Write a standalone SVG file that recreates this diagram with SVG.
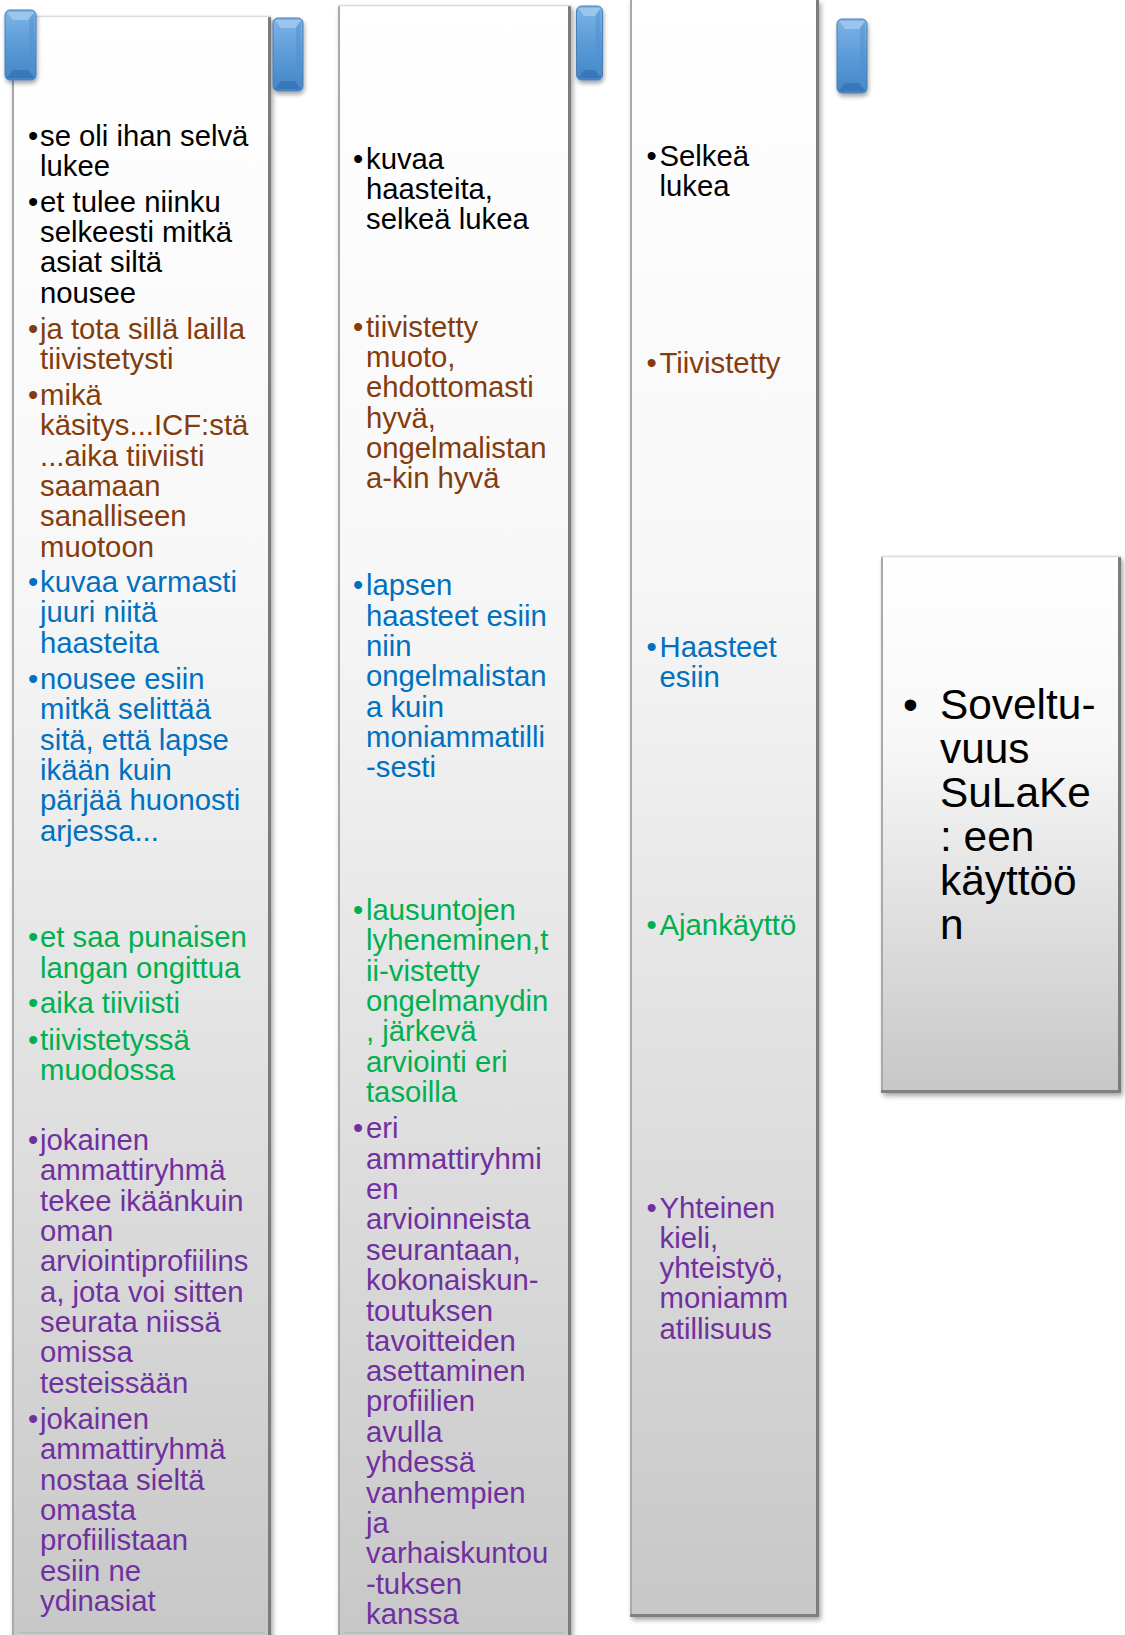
<svg xmlns="http://www.w3.org/2000/svg" width="1125" height="1635" viewBox="0 0 1125 1635">
<defs>
<linearGradient id="colFill" x1="0" y1="0" x2="0" y2="1">
<stop offset="0" stop-color="#ffffff"/>
<stop offset="0.35" stop-color="#f7f7f7"/>
<stop offset="1" stop-color="#c7c7c7"/>
</linearGradient>
<linearGradient id="tabFill" x1="0" y1="0" x2="0" y2="1">
<stop offset="0" stop-color="#7fb4e6"/>
<stop offset="0.5" stop-color="#5b9bd8"/>
<stop offset="1" stop-color="#4586c8"/>
</linearGradient>
<filter id="shadow" x="-10%" y="-5%" width="130%" height="115%">
<feDropShadow dx="2" dy="3" stdDeviation="2.5" flood-color="#000000" flood-opacity="0.35"/>
</filter>
<filter id="tabShadow" x="-30%" y="-20%" width="160%" height="150%">
<feDropShadow dx="1" dy="3" stdDeviation="2" flood-color="#000000" flood-opacity="0.35"/>
</filter>
</defs>
<style>
.col{fill:url(#colFill);filter:url(#shadow)}
.rimL{stroke:#a9a9a9;stroke-width:2;fill:none}
.rimR{stroke:#7c7c7c;stroke-width:3;fill:none}
.rimT{stroke:#dcdcdc;stroke-width:1.5;fill:none}
.rimB{stroke:#808080;stroke-width:3;fill:none}
.bev{stroke:#b9b9b9;stroke-width:1;fill:none}
.tab{fill:url(#tabFill);stroke:#4a7fb5;stroke-width:1;filter:url(#tabShadow)}
.ftop{fill:#a6cdf2;opacity:0.75}
.fbot{fill:#3573b5;opacity:0.8}
.fside{fill:#4f8fcf;opacity:0.5}
text{font-family:"Liberation Sans",Arial,sans-serif;font-size:29.3px}
.big{font-size:42.4px}
.k{fill:#000000}
.br{fill:#843c0c}
.bl{fill:#0070c0}
.gr{fill:#00b050}
.pu{fill:#7030a0}
</style>

<g id="column1">
<rect class="col" x="12" y="16" width="259" height="1630"/>
<line class="rimL" x1="13" y1="16" x2="13" y2="1646"/>
<line class="rimR" x1="269.5" y1="16" x2="269.5" y2="1646"/>
<line class="rimT" x1="12" y1="16.5" x2="271" y2="16.5"/>
<line class="bev" x1="18" y1="1632.5" x2="265" y2="1632.5"/>
<g transform="matrix(1,0,0,1.0025,0,0.64)">
<text class="k"><tspan x="28" y="145">•</tspan><tspan x="40" y="145">se oli ihan selvä</tspan><tspan x="40" y="175">lukee</tspan></text>
<text class="k"><tspan x="28" y="210.5">•</tspan><tspan x="40" y="210.5">et tulee niinku</tspan><tspan x="40" y="240.8">selkeesti mitkä</tspan><tspan x="40" y="271">asiat siltä</tspan><tspan x="40" y="301.3">nousee</tspan></text>
<text class="br"><tspan x="28" y="337.6">•</tspan><tspan x="40" y="337.6">ja tota sillä lailla</tspan><tspan x="40" y="367.8">tiivistetysti</tspan></text>
<text class="br"><tspan x="28" y="403.3">•</tspan><tspan x="40" y="403.3">mikä</tspan><tspan x="40" y="433.5">käsitys...ICF:stä</tspan><tspan x="40" y="463.8">...aika tiiviisti</tspan><tspan x="40" y="494">saamaan</tspan><tspan x="40" y="524.3">sanalliseen</tspan><tspan x="40" y="554.5">muotoon</tspan></text>
<text class="bl"><tspan x="28" y="590">•</tspan><tspan x="40" y="590">kuvaa varmasti</tspan><tspan x="40" y="620.3">juuri niitä</tspan><tspan x="40" y="650.5">haasteita</tspan></text>
<text class="bl"><tspan x="28" y="686.8">•</tspan><tspan x="40" y="686.8">nousee esiin</tspan><tspan x="40" y="717">mitkä selittää</tspan><tspan x="40" y="747.3">sitä, että lapse</tspan><tspan x="40" y="777.5">ikään kuin</tspan><tspan x="40" y="807.8">pärjää huonosti</tspan><tspan x="40" y="838">arjessa...</tspan></text>
<text class="gr"><tspan x="28" y="944.3">•</tspan><tspan x="40" y="944.3">et saa punaisen</tspan><tspan x="40" y="974.5">langan ongittua</tspan></text>
<text class="gr"><tspan x="28" y="1010">•</tspan><tspan x="40" y="1010">aika tiiviisti</tspan></text>
<text class="gr"><tspan x="28" y="1046.3">•</tspan><tspan x="40" y="1046.3">tiivistetyssä</tspan><tspan x="40" y="1076.5">muodossa</tspan></text>
<text class="pu"><tspan x="28" y="1146.5">•</tspan><tspan x="40" y="1146.5">jokainen</tspan><tspan x="40" y="1176.8">ammattiryhmä</tspan><tspan x="40" y="1207">tekee ikäänkuin</tspan><tspan x="40" y="1237.3">oman</tspan><tspan x="40" y="1267.5">arviointiprofiilins</tspan><tspan x="40" y="1297.8">a, jota voi sitten</tspan><tspan x="40" y="1328">seurata niissä</tspan><tspan x="40" y="1358.3">omissa</tspan><tspan x="40" y="1388.5">testeissään</tspan></text>
<text class="pu"><tspan x="28" y="1424.8">•</tspan><tspan x="40" y="1424.8">jokainen</tspan><tspan x="40" y="1455">ammattiryhmä</tspan><tspan x="40" y="1485.3">nostaa sieltä</tspan><tspan x="40" y="1515.5">omasta</tspan><tspan x="40" y="1545.8">profiilistaan</tspan><tspan x="40" y="1576">esiin ne</tspan><tspan x="40" y="1606.3">ydinasiat</tspan></text>
</g>
</g>

<g id="column2">
<rect class="col" x="338" y="5" width="233" height="1641"/>
<line class="rimL" x1="339" y1="5" x2="339" y2="1646"/>
<line class="rimR" x1="569.5" y1="5" x2="569.5" y2="1646"/>
<line class="rimT" x1="338" y1="5.5" x2="571" y2="5.5"/>
<line class="bev" x1="344" y1="1632.5" x2="565" y2="1632.5"/>
<g transform="matrix(1,0,0,1.00324,0,-0.05)">
<text class="k"><tspan x="353" y="168.5">•</tspan><tspan x="366" y="168.5">kuvaa</tspan><tspan x="366" y="198.5">haasteita,</tspan><tspan x="366" y="228.5">selkeä lukea</tspan></text>
<text class="br"><tspan x="353" y="335.5">•</tspan><tspan x="366" y="335.5">tiivistetty</tspan><tspan x="366" y="365.7">muoto,</tspan><tspan x="366" y="396">ehdottomasti</tspan><tspan x="366" y="426.2">hyvä,</tspan><tspan x="366" y="456.5">ongelmalistan</tspan><tspan x="366" y="486.7">a-kin hyvä</tspan></text>
<text class="bl"><tspan x="353" y="593.5">•</tspan><tspan x="366" y="593.5">lapsen</tspan><tspan x="366" y="623.8">haasteet esiin</tspan><tspan x="366" y="654">niin</tspan><tspan x="366" y="684.3">ongelmalistan</tspan><tspan x="366" y="714.5">a kuin</tspan><tspan x="366" y="744.8">moniammatilli</tspan><tspan x="366" y="775">-sesti</tspan></text>
<text class="gr"><tspan x="353" y="917">•</tspan><tspan x="366" y="917">lausuntojen</tspan><tspan x="366" y="947.3">lyheneminen,t</tspan><tspan x="366" y="977.5">ii-vistetty</tspan><tspan x="366" y="1007.8">ongelmanydin</tspan><tspan x="366" y="1038">, järkevä</tspan><tspan x="366" y="1068.3">arviointi eri</tspan><tspan x="366" y="1098.5">tasoilla</tspan></text>
<text class="pu"><tspan x="353" y="1134.8">•</tspan><tspan x="366" y="1134.8">eri</tspan><tspan x="366" y="1165">ammattiryhmi</tspan><tspan x="366" y="1195.3">en</tspan><tspan x="366" y="1225.5">arvioinneista</tspan><tspan x="366" y="1255.8">seurantaan,</tspan><tspan x="366" y="1286">kokonaiskun-</tspan><tspan x="366" y="1316.3">toutuksen</tspan><tspan x="366" y="1346.5">tavoitteiden</tspan><tspan x="366" y="1376.8">asettaminen</tspan><tspan x="366" y="1407">profiilien</tspan><tspan x="366" y="1437.3">avulla</tspan><tspan x="366" y="1467.5">yhdessä</tspan><tspan x="366" y="1497.8">vanhempien</tspan><tspan x="366" y="1528">ja</tspan><tspan x="366" y="1558.3">varhaiskuntou</tspan><tspan x="366" y="1588.5">-tuksen</tspan><tspan x="366" y="1618.8">kanssa</tspan></text>
</g>
</g>

<g id="column3">
<rect class="col" x="630" y="0" width="189" height="1617"/>
<line class="rimL" x1="631" y1="0" x2="631" y2="1617"/>
<line class="rimR" x1="817.5" y1="0" x2="817.5" y2="1617"/>
<line class="rimB" x1="630" y1="1615.5" x2="819" y2="1615.5"/>
<g transform="translate(0,1)">
<text class="k"><tspan x="646.5" y="164.5">•</tspan><tspan x="659.5" y="164.5">Selkeä</tspan><tspan x="659.5" y="194.8">lukea</tspan></text>
<text class="br"><tspan x="646.5" y="372">•</tspan><tspan x="659.5" y="372">Tiivistetty</tspan></text>
<text class="bl"><tspan x="646.5" y="655.5">•</tspan><tspan x="659.5" y="655.5">Haasteet</tspan><tspan x="659.5" y="685.8">esiin</tspan></text>
<text class="gr"><tspan x="646.5" y="934">•</tspan><tspan x="659.5" y="934">Ajankäyttö</tspan></text>
<text class="pu"><tspan x="646.5" y="1216.5">•</tspan><tspan x="659.5" y="1216.5">Yhteinen</tspan><tspan x="659.5" y="1246.8">kieli,</tspan><tspan x="659.5" y="1277">yhteistyö,</tspan><tspan x="659.5" y="1307.3">moniamm</tspan><tspan x="659.5" y="1337.5">atillisuus</tspan></text>
</g>
</g>

<g id="summary-box">
<rect class="col" x="881" y="556" width="240" height="537"/>
<line class="rimL" x1="882" y1="556" x2="882" y2="1093"/>
<line class="rimR" x1="1119.5" y1="556" x2="1119.5" y2="1093"/>
<line class="rimT" x1="881" y1="556.5" x2="1121" y2="556.5"/>
<line class="rimB" x1="881" y1="1091.5" x2="1121" y2="1091.5"/>
<text class="k big"><tspan x="903" y="719">•</tspan><tspan x="940" y="719">Soveltu-</tspan><tspan x="940" y="763">vuus</tspan><tspan x="940" y="807">SuLaKe</tspan><tspan x="940" y="851">: een</tspan><tspan x="940" y="895">käyttöö</tspan><tspan x="940" y="939">n</tspan></text>
</g>

<g id="tab1">
<rect class="tab" x="5" y="10" width="31" height="70" rx="5"/>
<polygon class="ftop" points="7,12 34,12 28,20 13,20"/>
<polygon class="fbot" points="13,70 28,70 34,78 7,78"/>
<polygon class="fside" points="29,20 34,13 34,77 29,70"/>
</g>
<g id="tab2">
<rect class="tab" x="273" y="18" width="30" height="73" rx="5"/>
<polygon class="ftop" points="275,20 301,20 295,28 281,28"/>
<polygon class="fbot" points="281,81 295,81 301,89 275,89"/>
<polygon class="fside" points="296,28 301,21 301,88 296,81"/>
</g>
<g id="tab3">
<rect class="tab" x="576.5" y="6" width="26" height="74" rx="5"/>
<polygon class="ftop" points="578.5,8 600.5,8 595,16 584,16"/>
<polygon class="fbot" points="584,70 595,70 600.5,78 578.5,78"/>
<polygon class="fside" points="595.5,16 600.5,9 600.5,77 595.5,70"/>
</g>
<g id="tab4">
<rect class="tab" x="837" y="19" width="30" height="74" rx="5"/>
<polygon class="ftop" points="839,21 865,21 859,29 845,29"/>
<polygon class="fbot" points="845,83 859,83 865,91 839,91"/>
<polygon class="fside" points="860,29 865,22 865,90 860,83"/>
</g>

<g id="connectors"/>
</svg>
